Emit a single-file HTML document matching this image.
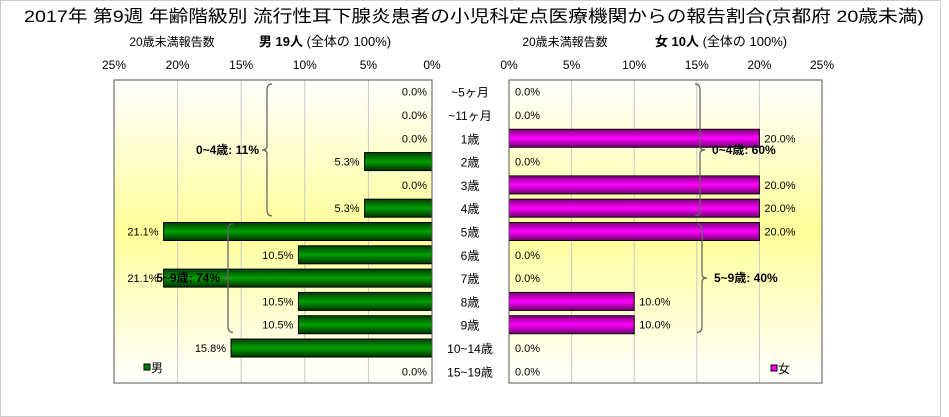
<!DOCTYPE html>
<html><head><meta charset="utf-8"><style>
body{margin:0;background:#fff;}
svg{display:block;font-family:"Liberation Sans","Noto Sans CJK JP",sans-serif;}
</style></head><body>
<svg id="c" width="949" height="417" viewBox="0 0 949 417">
<defs>
<linearGradient id="bg" x1="0" y1="0" x2="0" y2="1">
<stop offset="0" stop-color="#ffffff"/><stop offset="0.5" stop-color="#ffff99"/><stop offset="1" stop-color="#ffffff"/></linearGradient>
<linearGradient id="gG" x1="0" y1="0" x2="0" y2="1">
<stop offset="0" stop-color="#004000"/><stop offset="0.5" stop-color="#00a000"/><stop offset="1" stop-color="#003000"/></linearGradient>
<linearGradient id="gM" x1="0" y1="0" x2="0" y2="1">
<stop offset="0" stop-color="#800080"/><stop offset="0.5" stop-color="#ff00ff"/><stop offset="1" stop-color="#700070"/></linearGradient>
</defs>
<rect x="0.5" y="0.5" width="940" height="416" fill="#fff" stroke="#ccc"/>
<text x="474" y="22" text-anchor="middle" font-size="17" textLength="900" lengthAdjust="spacingAndGlyphs">2017年 第9週 年齢階級別 流行性耳下腺炎患者の小児科定点医療機関からの報告割合(京都府 20歳未満)</text>
<text x="172" y="46" text-anchor="middle" font-size="12">20歳未満報告数</text>
<text x="325" y="46" text-anchor="middle" font-size="13"><tspan font-weight="bold">男 19人</tspan> (全体の 100%)</text>
<text x="565" y="46" text-anchor="middle" font-size="12">20歳未満報告数</text>
<text x="721" y="46" text-anchor="middle" font-size="13"><tspan font-weight="bold">女 10人</tspan> (全体の 100%)</text>
<g id="g"></g>
</svg>
<script>
const categories=["~5ヶ月","~11ヶ月","1歳","2歳","3歳","4歳","5歳","6歳","7歳","8歳","9歳","10~14歳","15~19歳"];
const maleValues=[0,0,0,5.3,0,5.3,21.1,10.5,21.1,10.5,10.5,15.8,0];
const femaleValues=[0,0,20,0,20,20,20,0,0,10,10,0,0];
const tickLabels=[0,5,10,15,20,25];
const maleGroups=[{label:"0~4歳: 11%",from:0,to:5},{label:"5~9歳: 74%",from:6,to:10}];
const femaleGroups=[{label:"0~4歳: 60%",from:0,to:5},{label:"5~9歳: 40%",from:6,to:10}];

(function(){
const NS="http://www.w3.org/2000/svg";
const g=document.getElementById('g');
function mk(t,a,txt){const el=document.createElementNS(NS,t);for(const k in a)el.setAttribute(k,a[k]);if(txt!=null)el.textContent=txt;g.appendChild(el);return el;}
const yTop=80,yBot=383,rowH=(yBot-yTop)/categories.length;
const L0=432,L1=114,R0=509,R1=822;
const xL=v=>L0-(L0-L1)*v/25, xR=v=>R0+(R1-R0)*v/25, yC=i=>yTop+rowH*(i+0.5);
let e=mk('rect',{x:L1,y:yTop,width:L0-L1,height:yBot-yTop,fill:'url(#bg)'});


e=mk('rect',{x:R0,y:yTop,width:R1-R0,height:yBot-yTop,fill:'url(#bg)'});


tickLabels.forEach(t=>{
 if(t>0&&t<25){
  e=mk('line',{x1:xL(t),x2:xL(t),y1:yTop,y2:yBot,stroke:'#c8c8c8'});
  
  
  e=mk('line',{x1:xR(t),x2:xR(t),y1:yTop,y2:yBot,stroke:'#c8c8c8'});
  
  
 }
 e=mk('text',{x:xL(t),y:69,'text-anchor':'middle','font-size':12},t+'%');
 
 
 e=mk('text',{x:xR(t),y:69,'text-anchor':'middle','font-size':12},t+'%');
 
 
});
const bh=18;
categories.forEach((c,i)=>{
 const y=yC(i);
 e=mk('text',{x:470,y:y+5,'text-anchor':'middle','font-size':12},c);
 
 
 const m=maleValues[i];
 if(m>0){
  e=mk('rect',{x:xL(m),y:y-bh/2,width:L0-xL(m),height:bh,fill:'url(#gG)',stroke:'#000'});
  
  
 }
 e=mk('text',{x:(m>0?xL(m)-5:L0-5),y:y+4,'text-anchor':'end','font-size':11},m.toFixed(1)+'%');
 
 
 const f=femaleValues[i];
 if(f>0){
  e=mk('rect',{x:R0,y:y-bh/2,width:xR(f)-R0,height:bh,fill:'url(#gM)',stroke:'#000'});
  
  
 }
 e=mk('text',{x:(f>0?xR(f)+5:R0+6),y:y+4,'text-anchor':'start','font-size':11},f.toFixed(1)+'%');
 
 
});
function brace(x,y1,y2,dir){
 const m=(y1+y2)/2,w=5*dir;
 return `M${x-w},${y1} Q${x},${y1} ${x},${y1+6} L${x},${m-4} Q${x},${m} ${x+w},${m} Q${x},${m} ${x},${m+4} L${x},${y2-6} Q${x},${y2} ${x-w},${y2}`;
}
const bx={m:[267,228],f:[700,702]};
maleGroups.forEach((gr,k)=>{
 const y1=yC(gr.from)-rowH/2+4,y2=yC(gr.to)+rowH/2-4,x=bx.m[k];
 e=mk('path',{d:brace(x,y1,y2,-1),fill:'none',stroke:'#666','stroke-width':1.3});
 
 
 e=mk('text',{x:x-8,y:(y1+y2)/2+4,'text-anchor':'end','font-size':12,'font-weight':'bold'},gr.label);
 
 
});
femaleGroups.forEach((gr,k)=>{
 const y1=yC(gr.from)-rowH/2+4,y2=yC(gr.to)+rowH/2-4,x=bx.f[k];
 e=mk('path',{d:brace(x,y1,y2,1),fill:'none',stroke:'#666','stroke-width':1.3});
 
 
 e=mk('text',{x:x+12,y:(y1+y2)/2+4,'text-anchor':'start','font-size':12,'font-weight':'bold'},gr.label);
 
 
});
e=mk('rect',{x:L1,y:yTop,width:L0-L1,height:yBot-yTop,fill:'none',stroke:'#555'});


e=mk('rect',{x:R0,y:yTop,width:R1-R0,height:yBot-yTop,fill:'none',stroke:'#555'});


e=mk('rect',{x:144,y:364,width:6,height:6,fill:'#008000',stroke:'#000'});


e=mk('text',{x:151,y:372,'font-size':12},'男');


e=mk('rect',{x:771,y:365,width:6,height:6,fill:'#ff00ff',stroke:'#000'});


e=mk('text',{x:778,y:373,'font-size':12},'女');


})();
</script>
</body></html>
